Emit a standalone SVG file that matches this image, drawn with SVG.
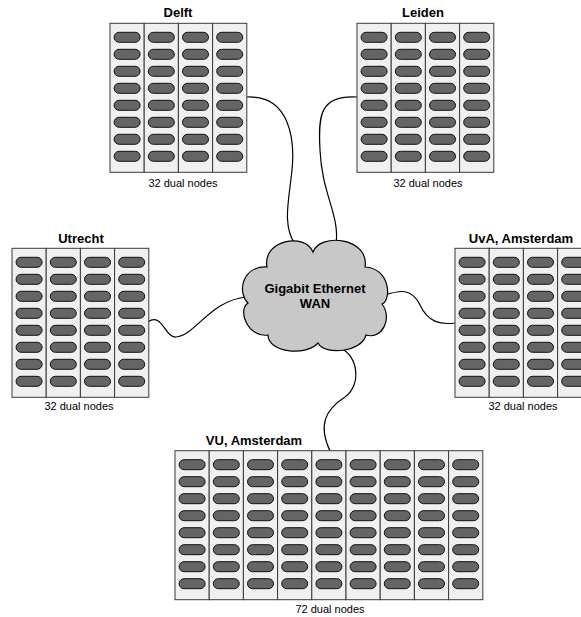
<svg xmlns="http://www.w3.org/2000/svg" width="581" height="617" viewBox="0 0 581 617">
<style>
.col{fill:#f0f0f0;stroke:#3a3a3a;stroke-width:1}
.pill{fill:#656565;stroke:#111;stroke-width:1}
.lbl{font-family:"Liberation Sans",Arial,sans-serif;font-size:13px;font-weight:bold;text-anchor:middle;fill:#000}
.cnt{font-family:"Liberation Sans",Arial,sans-serif;font-size:11px;text-anchor:middle;fill:#000}
.wire{fill:none;stroke:#000;stroke-width:1.2}
.cloud{fill:#c8c8c8;stroke:#000;stroke-width:1.2}
</style>
<defs>
<g id="col">
<rect class="col" x="0" y="0" width="34.2" height="149"/>
<rect class="pill" x="4.1" y="9" width="26" height="10" rx="5"/>
<rect class="pill" x="4.1" y="26" width="26" height="10" rx="5"/>
<rect class="pill" x="4.1" y="43" width="26" height="10" rx="5"/>
<rect class="pill" x="4.1" y="60" width="26" height="10" rx="5"/>
<rect class="pill" x="4.1" y="77" width="26" height="10" rx="5"/>
<rect class="pill" x="4.1" y="94" width="26" height="10" rx="5"/>
<rect class="pill" x="4.1" y="111" width="26" height="10" rx="5"/>
<rect class="pill" x="4.1" y="128" width="26" height="10" rx="5"/>
</g>
</defs>
<rect width="581" height="617" fill="#fff"/>
<g id="connectors">
<path class="wire" d="M 247 97 C 290 95, 295 140, 292 170 C 289 200, 282 225, 295 244"/>
<path class="wire" d="M 357 97 C 320 95, 318 115, 320 150 C 322 195, 340 215, 336 244"/>
<path class="wire" d="M 148 322 C 162 312, 165 338, 176 337 C 195 336, 210 300, 247 297"/>
<path class="wire" d="M 385 295 C 400 290, 412 288, 420 305 C 428 322, 440 325, 455 323"/>
<path class="wire" d="M 340 348 C 358 355, 362 385, 345 397 C 325 410, 318 425, 330 451"/>
</g>
<g id="wan">
<path class="cloud" d="M 267 267 C 262 240, 305 232, 313 252 C 320 232, 370 238, 365 267 C 390 268, 392 300, 382 304 C 393 318, 382 340, 366 335 C 362 352, 325 356, 318 343 C 305 357, 268 352, 268 335 C 248 338, 237 310, 248 303 C 237 292, 242 266, 267 267 Z"/>
<text class="lbl" x="315" y="293">Gigabit Ethernet</text>
<text class="lbl" x="315" y="308">WAN</text>
</g>
<g id="delft">
<text class="lbl" x="178" y="17">Delft</text>
<use href="#col" x="110" y="23.3"/>
<use href="#col" x="144.2" y="23.3"/>
<use href="#col" x="178.4" y="23.3"/>
<use href="#col" x="212.6" y="23.3"/>
<text class="cnt" x="183" y="187">32 dual nodes</text>
</g>
<g id="leiden">
<text class="lbl" x="423" y="17">Leiden</text>
<use href="#col" x="357" y="23.3"/>
<use href="#col" x="391.2" y="23.3"/>
<use href="#col" x="425.4" y="23.3"/>
<use href="#col" x="459.6" y="23.3"/>
<text class="cnt" x="428" y="187">32 dual nodes</text>
</g>
<g id="utrecht">
<text class="lbl" x="81" y="243">Utrecht</text>
<use href="#col" x="12" y="248.3"/>
<use href="#col" x="46.2" y="248.3"/>
<use href="#col" x="80.4" y="248.3"/>
<use href="#col" x="114.6" y="248.3"/>
<text class="cnt" x="79" y="410">32 dual nodes</text>
</g>
<g id="uva">
<text class="lbl" x="521" y="243">UvA, Amsterdam</text>
<use href="#col" x="455" y="248.3"/>
<use href="#col" x="489.2" y="248.3"/>
<use href="#col" x="523.4" y="248.3"/>
<use href="#col" x="557.6" y="248.3"/>
<text class="cnt" x="523" y="410">32 dual nodes</text>
</g>
<g id="vu">
<text class="lbl" x="254" y="445">VU, Amsterdam</text>
<use href="#col" x="175" y="450.7"/>
<use href="#col" x="209.2" y="450.7"/>
<use href="#col" x="243.4" y="450.7"/>
<use href="#col" x="277.6" y="450.7"/>
<use href="#col" x="311.8" y="450.7"/>
<use href="#col" x="346" y="450.7"/>
<use href="#col" x="380.2" y="450.7"/>
<use href="#col" x="414.4" y="450.7"/>
<use href="#col" x="448.6" y="450.7"/>
<text class="cnt" x="330" y="613">72 dual nodes</text>
</g>
</svg>
